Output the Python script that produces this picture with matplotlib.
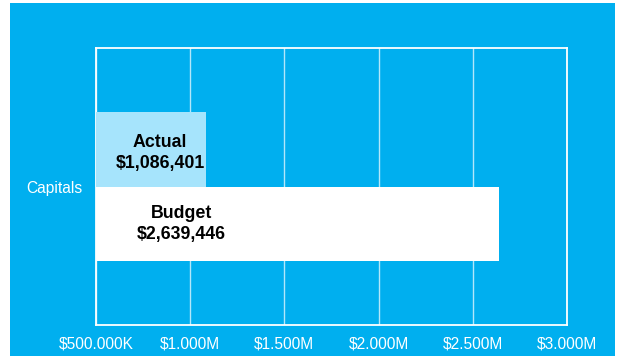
import matplotlib.pyplot as plt
from matplotlib.patches import Rectangle
from matplotlib.ticker import FuncFormatter

plt.rcParams['font.family'] = ['Liberation Sans', 'DejaVu Sans']

category = "Capitals"
series = ["Actual", "Budget"]
values = [1086401, 2639446]
label_x = [840000, 954000]
x_ticks = [500000, 1000000, 1500000, 2000000, 2500000, 3000000]

bg = '#00AFEF'
bar_colors = ['#A6E4FC', '#FFFFFF']

fig = plt.figure(figsize=(6.21, 3.56), dpi=100, facecolor='white')
# blue panel with a thin white margin round it
fig.add_artist(Rectangle((10 / 621, 0), 605 / 621, 353 / 356,
                         transform=fig.transFigure, facecolor=bg,
                         edgecolor='none', zorder=-1))

ax = fig.add_axes([96 / 621, 31 / 356, 471 / 621, 277 / 356])
ax.set_facecolor(bg)

base = x_ticks[0]
offsets = [0.135, -0.135]
text_shift = [-0.014, 0.0]
for name, val, col, off, lx, dy in zip(series, values, bar_colors, offsets, label_x, text_shift):
    ax.barh(off, val - base, left=base, height=0.27, color=col, zorder=3)
    ax.text(lx, off + dy, f"{name}\n${val:,}", ha='center', va='center',
            fontsize=12.8, fontweight='bold', color='black',
            linespacing=1.33, zorder=4)

ax.set_xlim(x_ticks[0], x_ticks[-1])
ax.set_ylim(-0.5, 0.5)
ax.set_xticks(x_ticks)


def money(v, pos):
    if v < 1000000:
        return f"${v / 1000:.3f}K"
    return f"${v / 1000000:.3f}M"


ax.xaxis.set_major_formatter(FuncFormatter(money))
ax.set_yticks([0])
ax.set_yticklabels([category])
ax.tick_params(axis='both', length=0, colors='white', labelsize=11.2)
ax.tick_params(axis='x', pad=8.5)
ax.tick_params(axis='y', pad=9.5)

ax.grid(axis='x', color='white', linewidth=1.0, alpha=0.7, zorder=1)
for s in ax.spines.values():
    s.set_color('white')
    s.set_linewidth(1.3)
    s.set_zorder(2)

fig.savefig('out.png', dpi=100, facecolor='white')
